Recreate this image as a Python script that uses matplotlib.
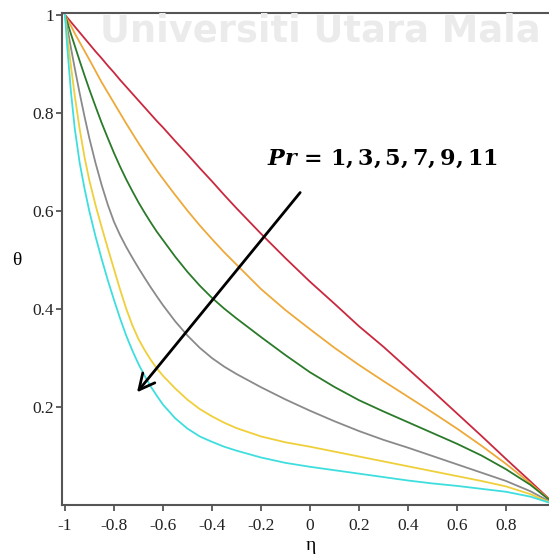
import numpy as np
import matplotlib
matplotlib.use("Agg")
from matplotlib import pyplot as plt

# eta grid and theta profiles
eta = [-1.0, -0.99, -0.975, -0.96, -0.94, -0.92, -0.9, -0.875, -0.85, -0.825,
       -0.8, -0.775, -0.75, -0.725, -0.7, -0.675, -0.65, -0.625, -0.6, -0.55,
       -0.5, -0.45, -0.4, -0.35, -0.3, -0.2, -0.1, 0.0,
       0.1, 0.2, 0.3, 0.4, 0.5, 0.6, 0.7, 0.8, 0.9, 1.0]

theta_pr1 = [1.0, 0.994, 0.985, 0.976, 0.964, 0.952, 0.94, 0.925, 0.911, 0.896,
             0.882, 0.867, 0.853, 0.839, 0.825, 0.811, 0.797, 0.783, 0.77, 0.742,
             0.715, 0.687, 0.66, 0.632, 0.605, 0.553, 0.503, 0.455,
             0.41, 0.364, 0.322, 0.277, 0.232, 0.186, 0.14, 0.093, 0.047, 0.0]
theta_pr3 = [1.0, 0.99, 0.977, 0.962, 0.944, 0.926, 0.908, 0.885, 0.862, 0.841,
             0.82, 0.799, 0.778, 0.758, 0.738, 0.719, 0.70, 0.682, 0.665, 0.632,
             0.60, 0.57, 0.542, 0.515, 0.49, 0.44, 0.397, 0.358,
             0.32, 0.285, 0.252, 0.22, 0.188, 0.155, 0.12, 0.083, 0.043, 0.0]
theta_pr5 = [1.0, 0.984, 0.96, 0.937, 0.906, 0.876, 0.847, 0.8125, 0.779, 0.748,
             0.718, 0.69, 0.664, 0.64, 0.617, 0.596, 0.576, 0.557, 0.54, 0.506,
             0.475, 0.447, 0.422, 0.4, 0.38, 0.342, 0.305, 0.27,
             0.24, 0.213, 0.19, 0.168, 0.146, 0.124, 0.1, 0.072, 0.04, 0.0]
theta_pr7 = [1.0, 0.972, 0.931, 0.891, 0.84, 0.792, 0.747, 0.697, 0.652, 0.612,
             0.5775, 0.55, 0.526, 0.504, 0.483, 0.463, 0.4435, 0.425, 0.407, 0.374,
             0.345, 0.32, 0.299, 0.2815, 0.2665, 0.2395, 0.2145, 0.1915,
             0.17, 0.15, 0.132, 0.116, 0.099, 0.082, 0.065, 0.048, 0.027, 0.0]
theta_pr9 = [1.0, 0.956, 0.893, 0.835, 0.767, 0.709, 0.661, 0.611, 0.566, 0.523,
             0.481, 0.439, 0.40, 0.366, 0.338, 0.3155, 0.2955, 0.278, 0.263, 0.237,
             0.214, 0.195, 0.18, 0.167, 0.156, 0.139, 0.127, 0.118,
             0.108, 0.098, 0.088, 0.078, 0.068, 0.058, 0.048, 0.037, 0.021, 0.0]
theta_pr11 = [1.0, 0.93, 0.84, 0.768, 0.698, 0.645, 0.598, 0.547, 0.501, 0.458,
              0.418, 0.38, 0.345, 0.3145, 0.287, 0.263, 0.241, 0.222, 0.204, 0.176,
              0.155, 0.139, 0.128, 0.118, 0.11, 0.096, 0.085, 0.077,
              0.07, 0.063, 0.056, 0.049, 0.043, 0.038, 0.032, 0.026, 0.016, 0.0]

series = [theta_pr1, theta_pr3, theta_pr5, theta_pr7, theta_pr9, theta_pr11]
colors = ["#c9283e", "#eda93a", "#2a7a2a", "#8a8a8a", "#efcf3a", "#3fdede"]

xticks = [-1, -0.8, -0.6, -0.4, -0.2, 0, 0.2, 0.4, 0.6, 0.8]
xtick_labels = ["-1", "-0.8", "-0.6", "-0.4", "-0.2", "0", "0.2", "0.4", "0.6", "0.8"]
yticks = [0.2, 0.4, 0.6, 0.8, 1]
ytick_labels = ["0.2", "0.4", "0.6", "0.8", "1"]

label_text = r"$\mathbfit{Pr}\,\mathbf{=}\,\mathbf{1,3,5,7,9,11}$"
arrow_tail = (-0.04, 0.637)
arrow_head = (-0.706, 0.229)

plt.rcParams["font.family"] = ["Liberation Serif", "DejaVu Serif"]
plt.rcParams["mathtext.fontset"] = "dejavuserif"

W, H = 549, 557
fig = plt.figure(figsize=(W / 100, H / 100), dpi=100)

# faint watermark of the thesis page
fig.text(100 / W, 1 - 41 / H, "Universiti Utara Mala", family="DejaVu Sans",
         fontweight="bold", fontsize=26.5, color="#ebebeb", ha="left", va="baseline",
         zorder=0)

ax = fig.add_axes([62 / W, (H - 504.5) / H, (555 - 62) / W, (504.5 - 13.3) / H])
ax.patch.set_alpha(0)

for th, c in zip(series, colors):
    ax.plot(eta, th, color=c, lw=1.3, solid_joinstyle="round")

ax.set_xlim(-1.012, 1.0)
ax.set_ylim(0, 1.003)
ax.set_xticks(xticks)
ax.set_xticklabels(xtick_labels)
ax.set_yticks(yticks)
ax.set_yticklabels(ytick_labels)
ax.tick_params(direction="out", length=4, width=1.3, color="#555555",
               labelsize=12.5, labelcolor="#222222")
ax.tick_params(axis="x", pad=6)
ax.tick_params(axis="y", pad=1.5)
for s in ax.spines.values():
    s.set_color("#555555")
    s.set_linewidth(1.5)
ax.spines["right"].set_visible(False)

ax.annotate("", xy=arrow_head, xytext=arrow_tail,
            arrowprops=dict(arrowstyle="->", lw=2.0, color="black",
                            mutation_scale=28, shrinkA=0, shrinkB=0))
fig.text(267 / W, 1 - 165 / H, label_text, fontsize=16, ha="left", va="baseline")

fig.text(16.7 / W, 1 - 261 / H, "θ", fontsize=14, ha="center", va="center")
fig.text(311 / W, 1 - 545 / H, "η", fontsize=14, ha="center", va="center")

fig.savefig("out.png", dpi=100)
